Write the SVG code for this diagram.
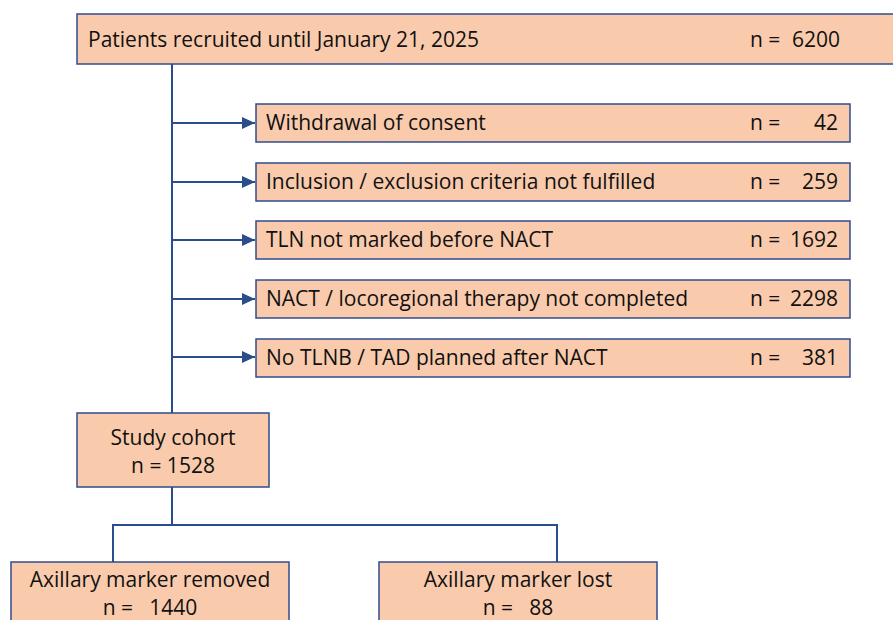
<svg xmlns="http://www.w3.org/2000/svg" width="893" height="620" viewBox="0 0 893 620">
<style>
.box{fill:#F9CBAC;stroke:#2F4C8C;stroke-width:1.5}
text{font-family:"Open Sans","Liberation Sans",sans-serif;font-size:21px;fill:#111}
.c{text-anchor:middle}
.r{text-anchor:end}
.p{white-space:pre}
.ln{fill:none;stroke:#2A4E8C;stroke-width:2}
</style>
<defs>
<marker id="ah" markerWidth="14" markerHeight="14" refX="13" refY="6" orient="auto" markerUnits="userSpaceOnUse">
<path d="M0,0 L13,6 L0,12 z" fill="#2A4E8C"/>
</marker>
</defs>
<rect width="893" height="620" fill="#fff"/>
<g id="connectors">
<path class="ln" d="M172,64 V413"/>
<path class="ln" d="M172,123 H255" marker-end="url(#ah)"/>
<path class="ln" d="M172,182 H255" marker-end="url(#ah)"/>
<path class="ln" d="M172,240 H255" marker-end="url(#ah)"/>
<path class="ln" d="M172,299 H255" marker-end="url(#ah)"/>
<path class="ln" d="M172,357 H255" marker-end="url(#ah)"/>
<path class="ln" d="M172,487 V525 M113,562 V525 H557 V562"/>
</g>
<g id="recruited">
<rect class="box" x="77" y="14" width="830" height="50"/>
<text x="88" y="47">Patients recruited until January 21, 2025</text>
<text x="750" y="47">n =</text><text class="r" x="840" y="47">6200</text>
</g>
<g id="withdrawal">
<rect class="box" x="256" y="104" width="594" height="38"/>
<text x="266" y="130">Withdrawal of consent</text>
<text x="750" y="130">n =</text><text class="r" x="838" y="130">42</text>
</g>
<g id="inclusion">
<rect class="box" x="256" y="163" width="594" height="38"/>
<text x="266" y="189">Inclusion / exclusion criteria not fulfilled</text>
<text x="750" y="189">n =</text><text class="r" x="838" y="189">259</text>
</g>
<g id="tln">
<rect class="box" x="256" y="221" width="594" height="38"/>
<text x="266" y="247">TLN not marked before NACT</text>
<text x="750" y="247">n =</text><text class="r" x="838" y="247">1692</text>
</g>
<g id="nact">
<rect class="box" x="256" y="280" width="594" height="38"/>
<text x="266" y="306">NACT / locoregional therapy not completed</text>
<text x="750" y="306">n =</text><text class="r" x="838" y="306">2298</text>
</g>
<g id="notlnb">
<rect class="box" x="256" y="339" width="594" height="38"/>
<text x="266" y="365">No TLNB / TAD planned after NACT</text>
<text x="750" y="365">n =</text><text class="r" x="838" y="365">381</text>
</g>
<g id="cohort">
<rect class="box" x="77" y="413" width="192" height="74"/>
<text class="c" x="173" y="445">Study cohort</text>
<text class="c" x="173" y="473">n = 1528</text>
</g>
<g id="removed">
<rect class="box" x="11" y="562" width="278" height="70"/>
<text class="c" x="150" y="587">Axillary marker removed</text>
<text class="c p" x="150" y="615">n =   1440</text>
</g>
<g id="lost">
<rect class="box" x="379" y="562" width="278" height="70"/>
<text class="c" x="518" y="587">Axillary marker lost</text>
<text class="c p" x="518" y="615">n =   88</text>
</g>
</svg>
